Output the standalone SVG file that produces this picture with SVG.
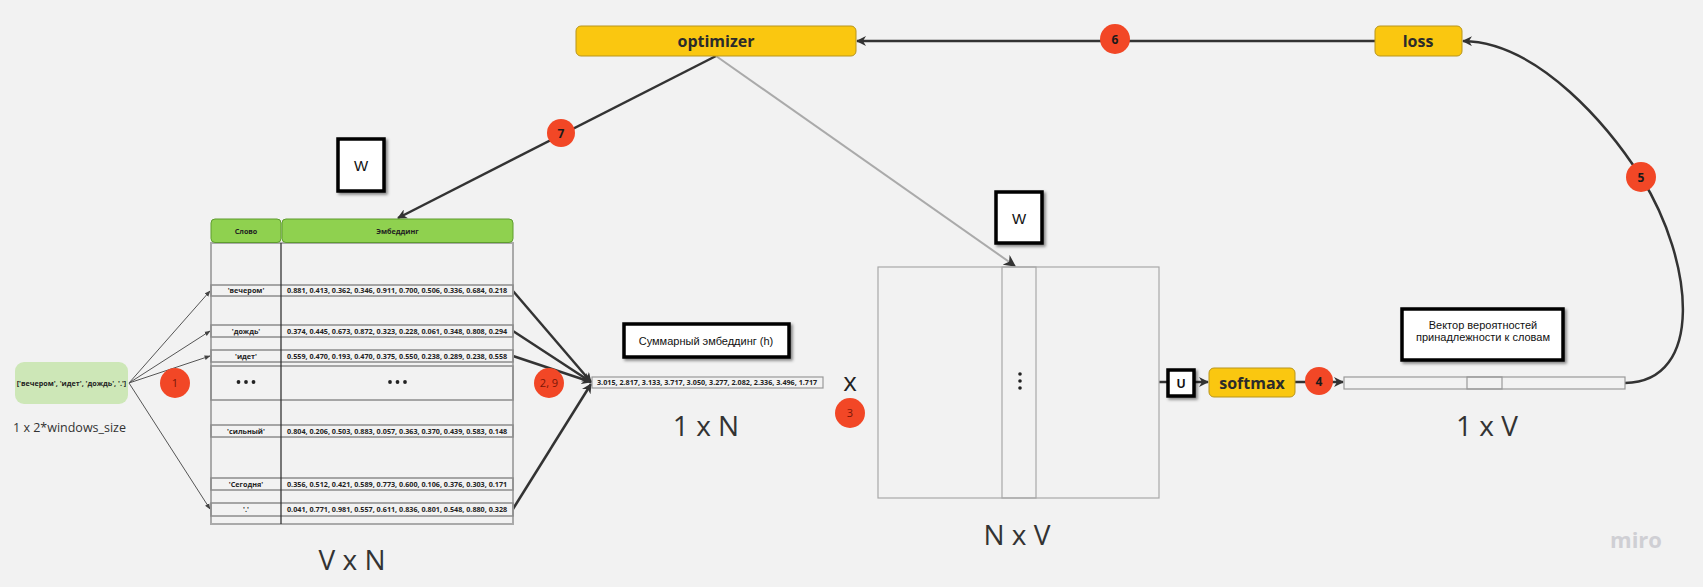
<svg xmlns="http://www.w3.org/2000/svg" width="1703" height="587" viewBox="0 0 1703 587">
<defs>
<style>
.os{font-family:"Open Sans","DejaVu Sans",sans-serif}
.ls{font-family:"Liberation Sans",Arial,sans-serif}
.cell{font-family:"Open Sans","DejaVu Sans",sans-serif;font-weight:700;font-size:7.2px;fill:#222}
.band{fill:none;stroke:#8c8c8c;stroke-width:1.5}
.dim{font-family:"Open Sans","DejaVu Sans",sans-serif;font-size:28px;fill:#333}
.badge{fill:#f24726}
.bt{font-family:"Open Sans","DejaVu Sans",sans-serif;font-size:11px;fill:#7a1606;text-anchor:middle}
.btb{font-family:"Open Sans","DejaVu Sans",sans-serif;font-size:12px;font-weight:700;fill:#1a1a1a;text-anchor:middle}
.yel{fill:#fac710;stroke:#b8951c;stroke-width:1}
.ytxt{font-family:"Open Sans","DejaVu Sans",sans-serif;font-weight:700;font-size:16px;fill:#2b2b2b;text-anchor:middle}
.blk{fill:#fff;stroke:#000;stroke-width:3.5;filter:url(#sh)}
.thick{fill:none;stroke:#333;stroke-width:2.5}
.thin{fill:none;stroke:#555;stroke-width:1}
.grey{fill:none;stroke:#aaa;stroke-width:2}
.hdr{fill:#8fd14f;stroke:#5e9c2e;stroke-width:1}
</style>
<marker id="ah" viewBox="0 0 10 10" refX="9" refY="5" markerWidth="4" markerHeight="4" orient="auto" markerUnits="strokeWidth">
<path d="M0,0 L10,5 L0,10 L3,5 z" fill="#333"/>
</marker>
<marker id="ahs" viewBox="0 0 10 10" refX="9" refY="5" markerWidth="6" markerHeight="6" orient="auto" markerUnits="strokeWidth">
<path d="M0,1 L10,5 L0,9 z" fill="#444"/>
</marker>
<marker id="ahg" viewBox="0 0 10 10" refX="9" refY="5" markerWidth="6" markerHeight="6" orient="auto" markerUnits="strokeWidth">
<path d="M0,0 L10,5 L0,10 L3,5 z" fill="#333"/>
</marker>
<filter id="sh" x="-20%" y="-20%" width="150%" height="150%">
<feDropShadow dx="2" dy="2" stdDeviation="1.5" flood-color="#000" flood-opacity="0.45"/>
</filter>
</defs>
<rect width="1703" height="587" fill="#f2f2f2"/>

<g id="connectors">
<line class="thin" x1="129" y1="383" x2="210" y2="291" marker-end="url(#ahs)"/>
<line class="thin" x1="129" y1="383" x2="210" y2="331" marker-end="url(#ahs)"/>
<line class="thin" x1="129" y1="383" x2="210" y2="356" marker-end="url(#ahs)"/>
<line class="thin" x1="129" y1="383" x2="210" y2="509" marker-end="url(#ahs)"/>
<line class="thick" x1="513" y1="291" x2="591" y2="382" marker-end="url(#ah)"/>
<line class="thick" x1="513" y1="331" x2="591" y2="382" marker-end="url(#ah)"/>
<line class="thick" x1="513" y1="356" x2="591" y2="382" marker-end="url(#ah)"/>
<line class="thick" x1="513" y1="509" x2="591" y2="384" marker-end="url(#ah)"/>
<line class="thick" x1="716" y1="56" x2="398" y2="218" marker-end="url(#ah)"/>
<line class="grey" x1="716" y1="56" x2="1015" y2="266" marker-end="url(#ahg)"/>
<line class="thick" x1="1375" y1="41" x2="857" y2="41" marker-end="url(#ah)"/>
<line class="thick" x1="1159" y1="382" x2="1167" y2="382"/>
<line class="thick" x1="1195" y1="382" x2="1208" y2="382" marker-end="url(#ah)"/>
<line class="thick" x1="1295" y1="382" x2="1343" y2="382" marker-end="url(#ah)"/>
<path class="thick" d="M1625,383 C1705,382 1694,262 1641,177 C1611,130 1540,42 1463,41" marker-end="url(#ah)"/>
</g>

<g id="input">
<rect x="15" y="362" width="113" height="42" rx="9" fill="#cde7b7"/>
<text class="cell" x="71.5" y="385.5" text-anchor="middle" font-size="7.4">['вечером', 'идет', 'дождь', '.']</text>
<text class="os" x="13" y="432" font-size="12.5" fill="#333">1 x 2*windows_size</text>
</g>

<g id="embedding-table">
<rect x="211" y="243" width="302" height="281" fill="none" stroke="#aaa" stroke-width="2"/>
<rect class="hdr" x="211" y="219" width="70" height="23.5" rx="4"/>
<rect class="hdr" x="282" y="219" width="231" height="23.5" rx="4"/>
<text class="cell" x="246" y="233.5" text-anchor="middle" fill="#1b2a0c">Слово</text>
<text class="cell" x="397.5" y="233.5" text-anchor="middle" fill="#1b2a0c">Эмбеддинг</text>
<rect class="band" x="211" y="285" width="302" height="11"/>
<rect class="band" x="211" y="325" width="302" height="12"/>
<rect class="band" x="211" y="350" width="302" height="12"/>
<rect class="band" x="211" y="366" width="302" height="34"/>
<rect class="band" x="211" y="425" width="302" height="12"/>
<rect class="band" x="211" y="478" width="302" height="12"/>
<rect class="band" x="211" y="503" width="302" height="13"/>
<line x1="281" y1="243" x2="281" y2="524" stroke="#333" stroke-width="1.3"/>
<text class="cell" x="246" y="293.3" text-anchor="middle">'вечером'</text>
<text class="cell" x="287" y="293.3">0.881, 0.413, 0.362, 0.346, 0.911, 0.700, 0.506, 0.336, 0.684, 0.218</text>
<text class="cell" x="246" y="333.8" text-anchor="middle">'дождь'</text>
<text class="cell" x="287" y="333.8">0.374, 0.445, 0.673, 0.872, 0.323, 0.228, 0.061, 0.348, 0.808, 0.294</text>
<text class="cell" x="246" y="358.8" text-anchor="middle">'идет'</text>
<text class="cell" x="287" y="358.8">0.559, 0.470, 0.193, 0.470, 0.375, 0.550, 0.238, 0.289, 0.238, 0.558</text>
<g fill="#222">
<circle cx="238.5" cy="382" r="1.9"/><circle cx="246" cy="382" r="1.9"/><circle cx="253.5" cy="382" r="1.9"/>
<circle cx="390" cy="382" r="1.9"/><circle cx="397.5" cy="382" r="1.9"/><circle cx="405" cy="382" r="1.9"/>
</g>
<text class="cell" x="246" y="433.8" text-anchor="middle">'сильный'</text>
<text class="cell" x="287" y="433.8">0.804, 0.206, 0.503, 0.883, 0.057, 0.363, 0.370, 0.439, 0.583, 0.148</text>
<text class="cell" x="246" y="486.8" text-anchor="middle">'Сегодня'</text>
<text class="cell" x="287" y="486.8">0.356, 0.512, 0.421, 0.589, 0.773, 0.600, 0.106, 0.376, 0.303, 0.171</text>
<text class="cell" x="246" y="512.3" text-anchor="middle">'.'</text>
<text class="cell" x="287" y="512.3">0.041, 0.771, 0.981, 0.557, 0.611, 0.836, 0.801, 0.548, 0.880, 0.328</text>
<text class="dim" x="352" y="570" text-anchor="middle">V x N</text>
</g>

<g id="w-left">
<rect class="blk" x="338" y="139" width="46" height="52"/>
<text class="ls" x="361" y="171" font-size="15" text-anchor="middle" fill="#111">W</text>
</g>

<g id="sum-label">
<rect class="blk" x="624" y="324" width="165" height="33"/>
<text class="ls" x="706" y="345" font-size="11" text-anchor="middle" fill="#111">Суммарный эмбеддинг (h)</text>
</g>

<g id="sum-vector">
<rect x="592" y="377" width="231" height="11" fill="none" stroke="#999" stroke-width="1.2"/>
<text class="cell" x="597" y="385.3">3.015, 2.817, 3.133, 3.717, 3.050, 3.277, 2.082, 2.336, 3.496, 1.717</text>
<text class="dim" x="706" y="436" text-anchor="middle" font-size="29">1 x N</text>
</g>

<g id="times">
<text class="os" x="850" y="391" font-size="26" text-anchor="middle" fill="#222">x</text>
</g>

<g id="matrix">
<rect x="878" y="267" width="281" height="231" fill="none" stroke="#a8a8a8" stroke-width="1.2"/>
<rect x="1002" y="267" width="34" height="231" fill="none" stroke="#a8a8a8" stroke-width="1.2"/>
<g fill="#222"><circle cx="1020" cy="374" r="1.8"/><circle cx="1020" cy="381" r="1.8"/><circle cx="1020" cy="388" r="1.8"/></g>
<text class="dim" x="1017" y="545" text-anchor="middle">N x V</text>
</g>

<g id="w-right">
<rect class="blk" x="996" y="192" width="46" height="51"/>
<text class="ls" x="1019" y="224" font-size="15" text-anchor="middle" fill="#111">W</text>
</g>

<g id="u">
<rect class="blk" x="1168" y="370" width="26" height="26"/>
<text class="ls" x="1181" y="387.5" font-size="12" font-weight="700" text-anchor="middle" fill="#111">U</text>
</g>

<g id="softmax">
<rect class="yel" x="1209" y="368" width="86" height="29" rx="5"/>
<text class="ytxt" x="1252" y="388.5">softmax</text>
</g>

<g id="prob-label">
<rect class="blk" x="1402" y="309" width="161" height="51"/>
<text class="ls" x="1483" y="329" font-size="11" text-anchor="middle" fill="#111">Вектор вероятностей</text>
<text class="ls" x="1483" y="341" font-size="11" text-anchor="middle" fill="#111">принадлежности к словам</text>
</g>

<g id="prob-vector">
<rect x="1344" y="377" width="281" height="12" fill="none" stroke="#999" stroke-width="1.2"/>
<rect x="1467" y="377" width="35" height="12" fill="none" stroke="#999" stroke-width="1.2"/>
<text class="dim" x="1487" y="436" text-anchor="middle">1 x V</text>
</g>

<g id="optimizer">
<rect class="yel" x="576" y="26" width="280" height="30" rx="5"/>
<text class="ytxt" x="716" y="47">optimizer</text>
</g>

<g id="loss">
<rect class="yel" x="1375" y="26" width="87" height="30" rx="5"/>
<text class="ytxt" x="1418" y="47">loss</text>
</g>

<g id="badges">
<circle class="badge" cx="175" cy="383" r="15"/><text class="bt" x="175" y="387">1</text>
<circle class="badge" cx="549" cy="383" r="15"/><text class="bt" x="549" y="387">2, 9</text>
<circle class="badge" cx="850" cy="413" r="15"/><text class="bt" x="850" y="417">3</text>
<circle class="badge" cx="1319" cy="381" r="14"/><text class="btb" x="1319" y="385.5">4</text>
<circle class="badge" cx="1641" cy="177" r="15"/><text class="btb" x="1641" y="181.5">5</text>
<circle class="badge" cx="1115" cy="39" r="15"/><text class="btb" x="1115" y="43.5">6</text>
<circle class="badge" cx="561" cy="133" r="14"/><text class="btb" x="561" y="137.5">7</text>
</g>

<g id="watermark">
<text class="os" x="1636" y="548" font-size="22" font-weight="700" text-anchor="middle" fill="#cfcfd4">miro</text>
</g>
</svg>
